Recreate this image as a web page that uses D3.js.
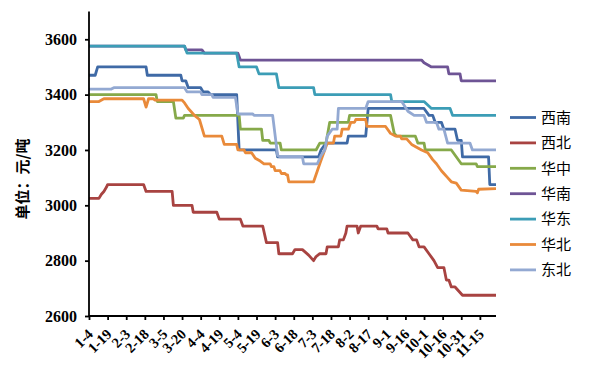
<!DOCTYPE html>
<html>
<head>
<meta charset="utf-8">
<script src="https://cdn.jsdelivr.net/npm/d3@7"></script>
<style>
  body { margin: 0; background: #fff; }
  svg { display: block; }
</style>
</head>
<body>
<svg id="chart" width="600" height="381"></svg>
<script>
// Tick labels on the category axis (one every 15 days, day 0 = 1-4)
var tickLabels = ['1-4', '1-19', '2-3', '2-18', '3-5', '3-20', '4-4', '4-19', '5-4', '5-19',
    '6-3', '6-18', '7-3', '7-18', '8-2', '8-17', '9-1', '9-16', '10-1', '10-16', '10-31', '11-15'];
var yTicks = [2600, 2800, 3000, 3200, 3400, 3600];
var lastDay = 328;

// Each series: [day since 1-4, price in 元/吨] at the points where the price moves
var xinan = [[0,3470],[5,3470],[7,3500],[46,3500],[47,3470],[74,3470],[75,3450],[78,3450],[80,3425],
    [90,3425],[92,3410],[96,3410],[98,3400],[119,3400],[121,3200],[151,3200],[152,3175],[185,3175],
    [187,3200],[191,3225],[208,3225],[209,3250],[223,3250],[225,3350],[270,3350],[274,3325],[277,3325],
    [279,3300],[284,3300],[286,3275],[295,3275],[297,3235],[300,3235],[301,3175],[322,3175],[323,3075],[328,3075]];
var xibei = [[0,3025],[8,3025],[10,3040],[12,3050],[14,3065],[15,3075],[44,3075],[46,3050],[67,3050],
    [68,3000],[83,3000],[84,2975],[103,2975],[105,2950],[122,2950],[124,2925],[140,2925],[143,2865],
    [152,2865],[153,2825],[164,2825],[166,2840],[172,2840],[177,2820],[181,2800],[183,2815],[186,2825],
    [191,2825],[192,2850],[201,2850],[202,2875],[205,2875],[207,2900],[208,2925],[216,2925],[217,2900],
    [219,2925],[232,2925],[233,2915],[240,2915],[241,2900],[257,2900],[261,2875],[264,2875],[266,2850],
    [270,2850],[274,2825],[278,2800],[281,2775],[286,2775],[288,2730],[290,2730],[292,2705],[295,2705],
    [301,2675],[328,2675]];
var huazhong = [[0,3400],[54,3400],[55,3375],[68,3375],[70,3315],[76,3315],[77,3325],[121,3325],
    [122,3275],[139,3275],[140,3235],[145,3235],[146,3225],[154,3225],[155,3200],[183,3200],[186,3225],
    [191,3225],[193,3275],[194,3300],[209,3300],[210,3325],[243,3325],[246,3260],[248,3250],[263,3250],
    [265,3225],[270,3225],[271,3200],[292,3200],[300,3150],[312,3150],[313,3140],[328,3140]];
var huanan = [[0,3575],[77,3575],[78,3562],[91,3562],[93,3550],[120,3550],[122,3525],[268,3525],
    [270,3515],[276,3500],[289,3500],[290,3475],[299,3475],[300,3450],[328,3450]];
var huadong = [[0,3575],[77,3575],[79,3550],[119,3550],[121,3500],[135,3500],[137,3475],[151,3475],
    [153,3425],[181,3425],[182,3400],[243,3400],[244,3375],[270,3375],[276,3350],[291,3350],[293,3325],[328,3325]];
var huabei = [[0,3375],[8,3375],[12,3385],[44,3385],[46,3355],[48,3385],[52,3385],[53,3380],[75,3380],
    [77,3370],[80,3350],[82,3340],[85,3325],[89,3310],[93,3250],[107,3250],[109,3220],[119,3220],
    [120,3200],[125,3200],[126,3190],[131,3190],[134,3170],[138,3160],[141,3150],[146,3150],[147,3140],
    [149,3140],[150,3125],[154,3125],[155,3115],[158,3115],[159,3110],[160,3110],[161,3085],[181,3085],
    [186,3150],[188,3175],[190,3200],[192,3225],[197,3225],[198,3250],[203,3250],[204,3275],[209,3275],
    [211,3300],[214,3300],[215,3310],[223,3310],[224,3285],[239,3285],[243,3260],[247,3250],[251,3250],
    [252,3240],[256,3240],[260,3220],[264,3210],[268,3200],[273,3190],[277,3165],[280,3150],[284,3125],
    [286,3115],[289,3100],[292,3085],[296,3080],[300,3055],[312,3050],[313,3045],[314,3058],[328,3060]];
var dongbei = [[0,3420],[18,3420],[20,3425],[77,3425],[79,3410],[90,3410],[91,3400],[99,3400],
    [100,3390],[118,3390],[120,3330],[132,3330],[133,3325],[148,3325],[152,3180],[154,3175],[172,3175],
    [173,3150],[184,3150],[187,3180],[190,3200],[192,3250],[196,3275],[200,3275],[201,3350],[223,3350],
    [225,3375],[252,3375],[257,3340],[262,3325],[270,3325],[272,3300],[280,3300],[282,3275],[286,3275],
    [289,3225],[307,3225],[309,3200],[328,3200]];

var seriesNames = ['西南', '西北', '华中', '华南', '华东', '华北', '东北'];
var seriesValues = [xinan, xibei, huazhong, huanan, huadong, huabei, dongbei];
var seriesColors = ['#3f6aa6', '#a84341', '#86a94a', '#6e5495', '#3c9db6', '#e98a3a', '#93a9d2'];

var svg = d3.select('#chart');
svg.append('rect').attr('width', 600).attr('height', 381).attr('fill', '#fff');

var x = d3.scaleLinear().domain([0, lastDay]).range([89, 496]);
var y = d3.scaleLinear().domain([2600, 3700]).range([316, 11.6]);

var serif = '"Times New Roman", "Liberation Serif", serif';

// Lines (drawn in legend order, later ones on top)
var line = d3.line()
    .x(function (d) { return x(d[0]); })
    .y(function (d) { return y(d[1]); });

svg.append('g').selectAll('path')
    .data(seriesValues)
    .enter()
    .append('path')
    .attr('d', line)
    .attr('fill', 'none')
    .attr('stroke', function (d, i) { return seriesColors[i]; })
    .attr('stroke-width', 2.8)
    .attr('stroke-linejoin', 'round');

// Y axis
var yAxis = svg.append('g')
    .attr('transform', 'translate(89,0)')
    .call(d3.axisLeft(y).tickValues(yTicks).tickSize(4).tickPadding(8).tickFormat(d3.format('d')));
yAxis.select('.domain').attr('d', 'M0,' + y(3700) + 'V' + y(2600));
yAxis.selectAll('.domain, line').attr('stroke', '#000').attr('stroke-width', 1.8);
yAxis.selectAll('text')
    .attr('font-family', serif)
    .attr('font-weight', 'bold')
    .attr('font-size', 16)
    .attr('fill', '#000');

// X axis
var xAxis = svg.append('g')
    .attr('transform', 'translate(0,316)')
    .call(d3.axisBottom(x).tickValues(d3.range(0, tickLabels.length * 15, 15)).tickSize(4).tickFormat(''));
xAxis.select('.domain').attr('d', 'M' + x(0) + ',0H' + x(lastDay));
xAxis.selectAll('.domain, line').attr('stroke', '#000').attr('stroke-width', 1.8);

svg.append('g').selectAll('text')
    .data(tickLabels)
    .enter()
    .append('text')
    .attr('transform', function (d, i) { return 'translate(' + (x(i * 15) + 5) + ',335) rotate(-45)'; })
    .attr('text-anchor', 'end')
    .attr('font-family', serif)
    .attr('font-weight', 'bold')
    .attr('font-size', 14.5)
    .text(function (d) { return d; });

// Y axis title
svg.append('text')
    .attr('transform', 'translate(28,179) rotate(-90)')
    .attr('text-anchor', 'middle')
    .attr('font-family', '"Noto Sans CJK SC", sans-serif')
    .attr('font-weight', 'bold')
    .attr('font-size', 15)
    .text('单位：元/吨');

// Legend
var legend = svg.append('g').selectAll('g')
    .data(seriesNames)
    .enter()
    .append('g')
    .attr('transform', function (d, i) { return 'translate(510,' + (117.5 + i * 25.4) + ')'; });
legend.append('line')
    .attr('x1', 0).attr('x2', 26)
    .attr('stroke', function (d, i) { return seriesColors[i]; })
    .attr('stroke-width', 2.8);
legend.append('text')
    .attr('x', 31)
    .attr('dy', '0.35em')
    .attr('font-family', '"Noto Sans CJK SC", sans-serif')
    .attr('font-size', 15)
    .text(function (d) { return d; });
</script>
</body>
</html>
